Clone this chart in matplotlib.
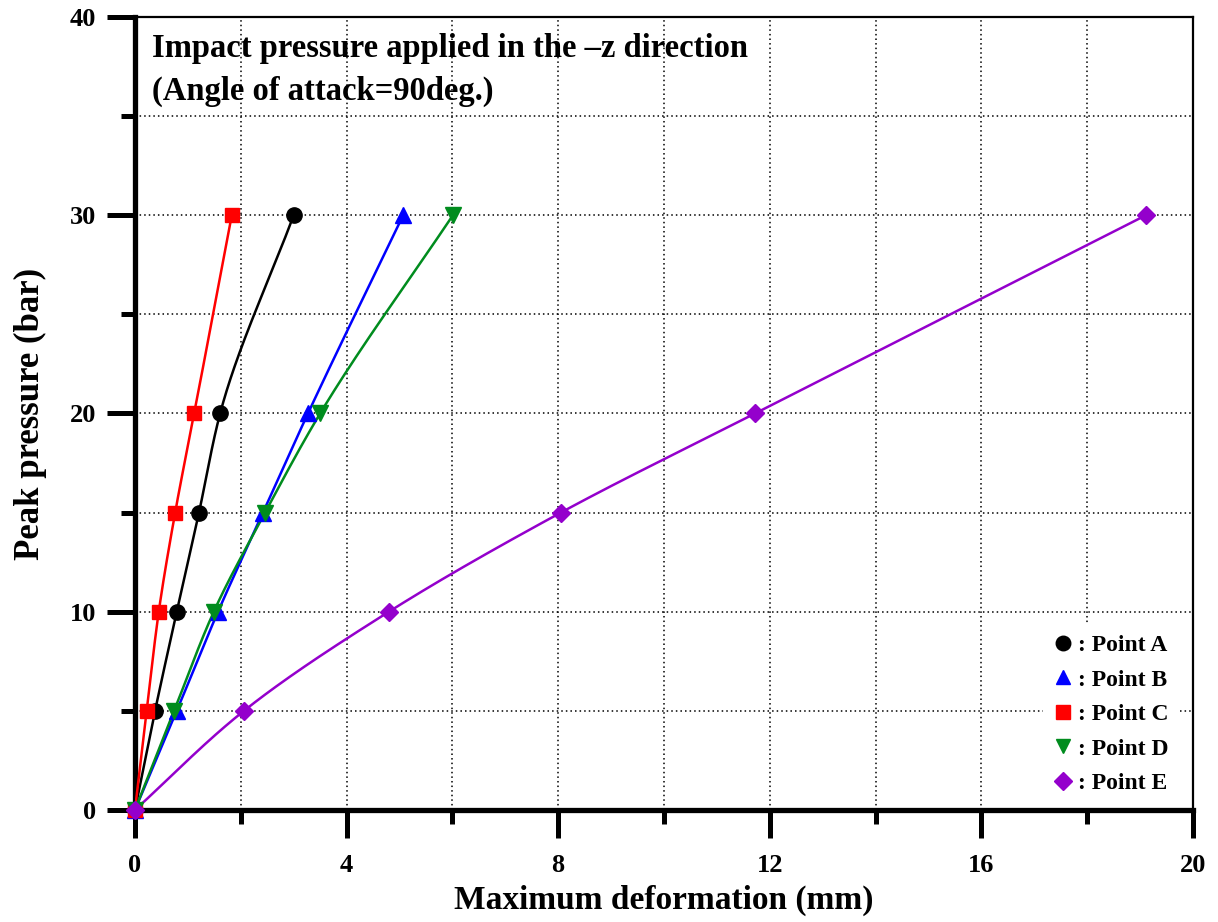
import numpy as np
import matplotlib.pyplot as plt
from matplotlib.ticker import MultipleLocator

plt.rcParams['font.family'] = ['Liberation Serif', 'DejaVu Serif']
plt.rcParams['font.weight'] = 'bold'

# Peak pressure (bar)
pressure = [0, 5, 10, 15, 20, 30]

# Maximum deformation (mm) per point
point_a = [0, 0.38, 0.79, 1.21, 1.61, 3.00]
point_b = [0, 0.79, 1.57, 2.42, 3.27, 5.07]
point_c = [0, 0.22, 0.45, 0.76, 1.12, 1.83]
point_d = [0, 0.74, 1.49, 2.46, 3.50, 6.01]
point_e = [0, 2.06, 4.80, 8.05, 11.72, 19.11]

names = ['Point A', 'Point B', 'Point C', 'Point D', 'Point E']
colors = ['black', '#0000ff', '#ff0000', '#008c1e', '#9400cc']
markers = ['o', '^', 's', 'v', 'D']
sizes = [11, 11, 10.5, 11, 9.5]


def pchip(x, y, xs):
    # monotone cubic curve through the read points (drawing only)
    x = np.asarray(x, float)
    y = np.asarray(y, float)
    h = np.diff(x)
    d = np.diff(y) / h
    m = np.zeros_like(x)
    for k in range(1, len(x) - 1):
        if d[k - 1] * d[k] > 0:
            w1 = 2 * h[k] + h[k - 1]
            w2 = h[k] + 2 * h[k - 1]
            m[k] = (w1 + w2) / (w1 / d[k - 1] + w2 / d[k])
    m[0] = d[0]
    m[-1] = d[-1]
    idx = np.clip(np.searchsorted(x, xs) - 1, 0, len(x) - 2)
    t = (xs - x[idx]) / h[idx]
    h00 = 2 * t**3 - 3 * t**2 + 1
    h10 = t**3 - 2 * t**2 + t
    h01 = -2 * t**3 + 3 * t**2
    h11 = t**3 - t**2
    return h00 * y[idx] + h10 * h[idx] * m[idx] + h01 * y[idx + 1] + h11 * h[idx] * m[idx + 1]


fig = plt.figure(figsize=(12.18, 9.22), dpi=100)
ax = fig.add_axes([0.1108, 0.1215, 0.8687, 0.8601])

ps = np.linspace(0, 30, 300)
for data, name, c, mk, ms in zip([point_a, point_b, point_c, point_d, point_e],
                                 names, colors, markers, sizes):
    ax.plot(pchip(pressure, data, ps), ps, color=c, lw=1.8, zorder=3)
    ax.plot(data, pressure, linestyle='none', marker=mk, color=c, ms=ms,
            label=': ' + name, zorder=4, clip_on=False)

ax.set_xlim(0, 20)
ax.set_ylim(0, 40)
ax.xaxis.set_major_locator(MultipleLocator(4))
ax.xaxis.set_minor_locator(MultipleLocator(2))
ax.yaxis.set_major_locator(MultipleLocator(10))
ax.yaxis.set_minor_locator(MultipleLocator(5))

ax.grid(True, which='both', color='black', linestyle=(0, (1, 2)), lw=1.1)
ax.set_axisbelow(True)

ax.tick_params(which='major', direction='out', length=20, width=3.6, labelsize=19)
ax.tick_params(which='minor', direction='out', length=10, width=3.6)
ax.tick_params(axis='y', which='major', pad=8)
ax.tick_params(axis='x', which='major', pad=12)
for s in ['left', 'bottom']:
    ax.spines[s].set_linewidth(3.8)
for s in ['top', 'right']:
    ax.spines[s].set_linewidth(1.6)
for lab in ax.get_xticklabels() + ax.get_yticklabels():
    lab.set_fontweight('bold')

ax.set_xlabel('Maximum deformation (mm)', fontsize=24, fontweight='bold')
ax.set_ylabel('Peak pressure (bar)', fontsize=25, fontweight='bold')
ax.xaxis.label.set_va('center')
ax.yaxis.label.set_va('center')
ax.xaxis.set_label_coords(0.5, -0.1135)
ax.yaxis.set_label_coords(-0.099, 0.5)

fig.text(152 / 1218, 1 - 48 / 922, 'Impact pressure applied in the \u2013z direction',
         fontsize=23.5, fontweight='bold', va='center', ha='left')
fig.text(152 / 1218, 1 - 91 / 922, '(Angle of attack=90deg.)',
         fontsize=23.5, fontweight='bold', va='center', ha='left')

leg = ax.legend(loc='lower right', bbox_to_anchor=(0.988, 0.005), frameon=True,
                handlelength=0.7, handletextpad=0.3, labelspacing=0.55,
                prop={'family': 'Liberation Serif', 'weight': 'bold', 'size': 17},
                borderpad=0.5, borderaxespad=0, markerscale=0.95)
leg.get_frame().set_facecolor('white')
leg.get_frame().set_edgecolor('none')
leg.get_frame().set_alpha(1)
leg.set_zorder(5)

fig.savefig('out.png', dpi=100)
